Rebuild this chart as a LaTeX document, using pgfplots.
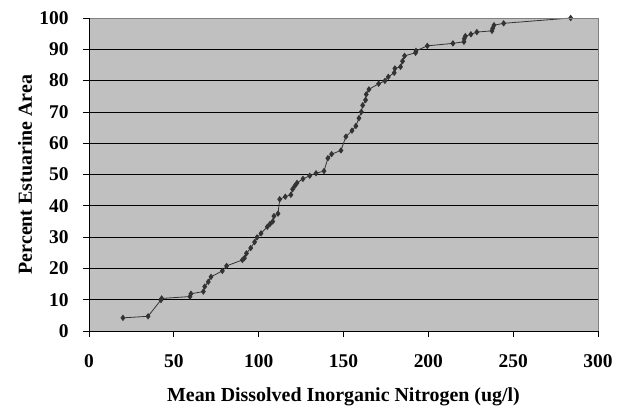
\documentclass[border=0pt]{standalone}
\usepackage{fontspec}
\setmainfont{Liberation Serif}
\usepackage{pgfplots}
\pgfplotsset{compat=1.18}
\definecolor{plotgray}{HTML}{C0C0C0}
\definecolor{borderg}{HTML}{808080}
\definecolor{ser}{HTML}{333333}
\begin{document}
\begin{tikzpicture}
\path[use as bounding box] (-89bp,-78bp) rectangle (537bp,331bp);
\begin{axis}[
  at={(0,0)}, anchor=south west,
  scale only axis, width=509bp, height=313bp,
  xmin=0, xmax=300, ymin=0, ymax=100,
  xtick={0,50,...,300}, ytick={0,10,...,100},
  xtick pos=left, ytick pos=left,
  tick align=outside, major tick length=6bp,
  tick style={black, line width=0.8pt},
  axis line style={draw=none},
  axis background/.style={fill=plotgray},
  ymajorgrids, major grid style={black, line width=0.8pt},
  /pgf/number format/assume math mode=true,
  ticklabel style={font=\fontsize{19.5}{22}\selectfont\bfseries},
  xticklabel style={anchor=base, yshift=-30bp},
  yticklabel style={anchor=east, xshift=-11bp},
  label style={font=\fontsize{20}{24}\selectfont\bfseries},
  xlabel={Mean Dissolved Inorganic Nitrogen (ug/l)},
  ylabel={Percent Estuarine Area},
  xlabel style={at={(axis description cs:0.5,0)}, anchor=base, yshift=-70bp},
  ylabel style={at={(axis description cs:0,0.5)}, anchor=center, yshift=64bp},
  after end axis/.code={
    \draw[borderg, line width=1pt] (rel axis cs:0,1) -- (rel axis cs:1,1) -- (rel axis cs:1,0);
    \draw[black, line width=0.8pt] (rel axis cs:0,1) -- (rel axis cs:0,0) -- (rel axis cs:1,0);
  },
]
\addplot[color=ser, line width=0.8pt, mark=diamond*, mark size=2.6pt, mark options={fill=ser, draw=ser}] coordinates {
(20.0,4.2) (34.8,4.7) (42.4,9.9) (42.8,10.4) (59.5,11.0) (60.1,11.9)
(67.4,12.6) (68.2,14.2) (70.3,15.7) (71.9,17.3) (78.6,19.2) (81.1,20.8)
(90.4,22.7) (91.6,23.3) (92.8,24.8) (95.3,26.5) (97.6,28.4) (99.0,29.9)
(101.4,31.2) (105.1,33.3) (106.7,34.2) (108.3,35.0) (109.0,36.7) (111.4,37.5)
(112.4,42.1) (115.7,42.9) (119.0,43.5) (120.0,45.3) (121.4,46.4) (122.6,47.3)
(126.1,48.6) (130.1,49.6) (133.8,50.4) (138.5,51.1) (140.8,55.2) (143.0,56.5)
(148.5,57.7) (151.4,62.1) (155.0,64.0) (157.3,65.5) (159.1,68.0) (160.5,70.0)
(161.3,72.1) (163.0,73.8) (163.4,75.6) (165.0,77.2) (170.7,79.0) (174.4,79.9)
(176.4,81.2) (179.9,82.5) (180.3,83.9) (183.6,84.4) (184.8,86.2) (186.0,87.9)
(192.5,88.9) (192.7,89.5) (199.4,91.1) (214.5,91.9) (221.0,92.4) (221.2,93.4)
(221.8,94.2) (225.1,94.8) (228.6,95.5) (237.5,95.9) (237.9,96.7) (238.7,97.7)
(244.4,98.3) (283.9,100)
};
\end{axis}
\end{tikzpicture}
\end{document}
